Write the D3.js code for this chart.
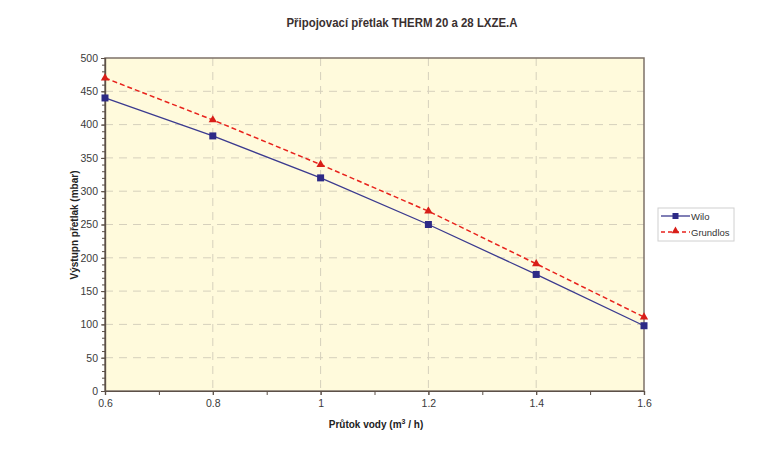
<!DOCTYPE html>
<html><head><meta charset="utf-8">
<script src="https://cdn.jsdelivr.net/npm/d3@7"></script>
<style>body{margin:0;background:#fff}svg{display:block;font-family:"Liberation Sans",Arial,sans-serif}</style>
</head><body><svg id="c" width="772" height="450"></svg>
<script>
const flow = [0.6, 0.8, 1.0, 1.2, 1.4, 1.6];
const wilo = [440, 383, 320, 250, 175, 98];
const grundfos = [470, 407, 340, 270, 191, 111];
const seriesNames = ["Wilo", "Grundlos"];
const yTicks = [0, 50, 100, 150, 200, 250, 300, 350, 400, 450, 500];
const xTicks = [0.6, 0.8, 1.0, 1.2, 1.4, 1.6];
const title = "Připojovací přetlak THERM 20 a 28 LXZE.A";

const svg = d3.select("#c");
const L = 105, R = 644, T = 58, B = 391;
const x = d3.scaleLinear().domain([0.6, 1.6]).range([L, R]);
const y = d3.scaleLinear().domain([0, 500]).range([B, T]);

svg.append("rect").attr("x", L).attr("y", T).attr("width", R - L).attr("height", B - T).attr("fill", "#fffadc");

// grid
svg.append("g").selectAll("line").data(yTicks.slice(1, -1)).join("line")
  .attr("x1", L).attr("x2", R).attr("y1", d => y(d)).attr("y2", d => y(d))
  .attr("stroke", "#d6d0bc").attr("stroke-dasharray", "8,6");
svg.append("g").selectAll("line").data(xTicks.slice(1, -1)).join("line")
  .attr("y1", T).attr("y2", B).attr("x1", d => x(d)).attr("x2", d => x(d))
  .attr("stroke", "#d6d0bc").attr("stroke-dasharray", "8,6");

// border
svg.append("rect").attr("x", L).attr("y", T).attr("width", R - L).attr("height", B - T)
  .attr("fill", "none").attr("stroke", "#7d7168").attr("stroke-width", 1.5);

// axes
const yAxis = svg.append("g").attr("transform", `translate(${L},0)`)
  .call(d3.axisLeft(y).tickValues(yTicks).tickSize(4).tickPadding(3).tickFormat(d3.format("d")));
const yMinor = svg.append("g").attr("transform", `translate(${L},0)`)
  .call(d3.axisLeft(y).tickValues(d3.range(0, 501, 10)).tickSize(3).tickFormat(""));
const xAxis = svg.append("g").attr("transform", `translate(0,${B})`)
  .call(d3.axisBottom(x).tickValues(xTicks).tickSize(4).tickPadding(5).tickFormat(d => d === 1 ? "1" : d3.format(".1f")(d)));
const xMinor = svg.append("g").attr("transform", `translate(0,${B})`)
  .call(d3.axisBottom(x).tickValues(d3.range(0.6, 1.61, 0.1)).tickSize(4).tickFormat(""));
[yAxis, yMinor, xAxis, xMinor].forEach(g => {
  g.select(".domain").attr("stroke", "#5c5048").attr("stroke-width", 1.2);
  g.selectAll(".tick line").attr("stroke", "#5c5048");
  g.selectAll("text").attr("fill", "#3a3a3a").attr("font-size", 10.5);
});

// series
const line = d3.line().x(d => x(d[0])).y(d => y(d[1]));
const wData = flow.map((f, i) => [f, wilo[i]]);
const gData = flow.map((f, i) => [f, grundfos[i]]);
const wColor = "#3b3a8f", gColor = "#e8221c";
svg.append("path").attr("d", line(wData)).attr("fill", "none").attr("stroke", wColor).attr("stroke-width", 1.3);
svg.append("path").attr("d", line(gData)).attr("fill", "none").attr("stroke", gColor).attr("stroke-width", 1.5).attr("stroke-dasharray", "5,3");
svg.append("g").selectAll("rect").data(wData).join("rect")
  .attr("x", d => x(d[0]) - 3.5).attr("y", d => y(d[1]) - 3.5).attr("width", 7).attr("height", 7).attr("fill", "#2d2a86");
const tri = d3.symbol().type(d3.symbolTriangle).size(30);
svg.append("g").selectAll("path").data(gData).join("path")
  .attr("transform", d => `translate(${x(d[0])},${y(d[1])})`).attr("d", tri).attr("fill", "#d81e18");

// legend
const lg = svg.append("g");
lg.append("rect").attr("x", 658).attr("y", 208).attr("width", 76).attr("height", 33).attr("fill", "#fff").attr("stroke", "#d0d0d0");
lg.append("line").attr("x1", 661).attr("x2", 690).attr("y1", 216).attr("y2", 216).attr("stroke", wColor).attr("stroke-width", 1.3);
lg.append("rect").attr("x", 672.5).attr("y", 213).attr("width", 6).attr("height", 6).attr("fill", "#2d2a86");
lg.append("line").attr("x1", 661).attr("x2", 690).attr("y1", 232).attr("y2", 232).attr("stroke", gColor).attr("stroke-width", 1.3).attr("stroke-dasharray", "4,3");
lg.append("path").attr("transform", "translate(675.5,231)").attr("d", d3.symbol().type(d3.symbolTriangle).size(25)).attr("fill", "#d81e18");
lg.selectAll("text").data(seriesNames).join("text")
  .attr("x", 691).attr("y", (d, i) => 219.5 + i * 16).text(d => d)
  .attr("font-size", 9.5).attr("fill", "#333");

// titles
svg.append("text").attr("x", 402).attr("y", 27).attr("text-anchor", "middle")
  .attr("font-size", 12.5).attr("font-weight", "bold").attr("fill", "#3a3030")
  .attr("textLength", 231).attr("lengthAdjust", "spacingAndGlyphs").text(title);
const xl = svg.append("text").attr("x", 376).attr("y", 428).attr("text-anchor", "middle")
  .attr("font-size", 10).attr("font-weight", "bold").attr("fill", "#222");
xl.append("tspan").text("Průtok vody (m");
xl.append("tspan").attr("font-size", 7).attr("dy", -4).text("3");
xl.append("tspan").attr("dy", 4).text(" / h)");
svg.append("text").attr("transform", "translate(78,225) rotate(-90)").attr("text-anchor", "middle")
  .attr("font-size", 10).attr("font-weight", "bold").attr("fill", "#222").text("Výstupn přetlak (mbar)");
</script></body></html>
